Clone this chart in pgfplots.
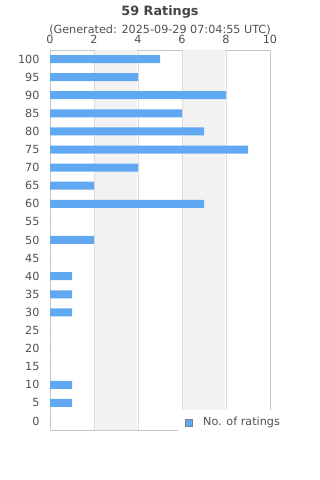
\documentclass[border=0pt]{standalone}
\usepackage{pgfplots}
\pgfplotsset{compat=1.18}
\usepackage{fontspec}
\setmainfont{DejaVu Sans}
\definecolor{barblue}{RGB}{97,168,243}
\definecolor{txt}{RGB}{80,80,80}
\definecolor{gridc}{RGB}{221,221,221}
\definecolor{band}{RGB}{242,242,242}
\begin{document}
\begin{tikzpicture}
\path[use as bounding box] (0,0) rectangle (320pt,480pt);
\node[font=\fontsize{12.8}{15}\selectfont\bfseries, text=txt!85!black] at (160pt,468pt) {59 Ratings};
\node[font=\fontsize{11.2}{13}\selectfont, text=txt] at (160pt,450pt) {(Generated: 2025-09-29 07:04:55 UTC)};
\begin{axis}[
  at={(50pt,50pt)}, anchor=south west,
  scale only axis, width=220pt, height=380pt,
  xbar, bar width=8pt,
  xmin=0, xmax=10, ymin=-2.5, ymax=102.5,
  xtick={0,2,...,10}, ytick={0,5,...,100},
  xticklabel pos=upper,
  major tick length=0pt,
  xmajorgrids, grid style={gridc},
  axis line style={draw=gridc!90!black},
  tick label style={font=\fontsize{11.2}{13}\selectfont, text=txt},
  /pgf/number format/assume math mode=true,
  xticklabel style={yshift=2.5pt},
  yticklabel style={xshift=-7pt},
  legend style={at={(0.582,0.0526)}, anchor=north west, draw=none, fill=white,
    font=\fontsize{11.2}{13}\selectfont, text=txt, inner xsep=7pt, inner ysep=5pt},
  legend image code/.code={\draw[fill=barblue, draw=gray] (0pt,-3.5pt) rectangle (7pt,3.5pt);},
]
\fill[band] (axis cs:2.03,-2.5) rectangle (axis cs:3.97,102.5);
\fill[band] (axis cs:6.03,-2.5) rectangle (axis cs:7.97,102.5);
\addplot[fill=barblue, draw=none] coordinates {
(5,100) (4,95) (8,90) (6,85) (7,80) (9,75) (4,70) (2,65) (7,60) (0,55)
(2,50) (0,45) (1,40) (1,35) (1,30) (0,25) (0,20) (0,15) (1,10) (1,5) (0,0)
};
\addlegendentry{\hspace{8.5pt}No. of ratings}
\end{axis}
\end{tikzpicture}
\end{document}
